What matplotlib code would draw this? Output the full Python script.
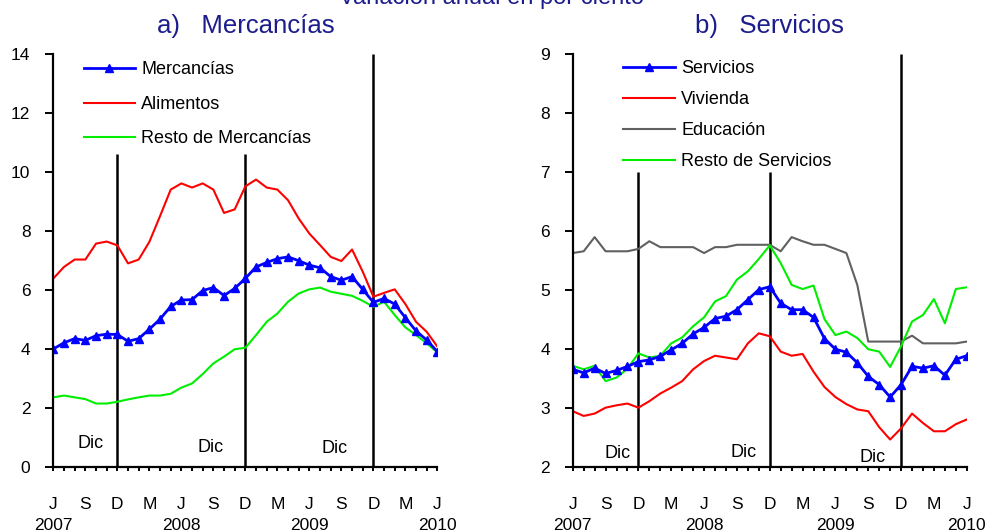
import matplotlib
matplotlib.use("Agg")
import matplotlib.pyplot as plt
import matplotlib.transforms as mtransforms

plt.rcParams['font.family'] = ['Liberation Sans', 'DejaVu Sans']

# months Jun 2007 .. Jun 2010 (37 points)
n_months = 37
month_letters = ['J', 'S', 'D', 'M']  # every 3rd month starting Jun 2007
years = ['2007', '2008', '2009', '2010']
year_pos = [0, 12, 24, 36]
dec_pos = [6, 18, 30]

# panel a) Mercancias
mercancias = [4.01, 4.22, 4.36, 4.30, 4.46, 4.51, 4.50, 4.27, 4.36, 4.68, 5.02, 5.45,
              5.67, 5.68, 5.99, 6.09, 5.82, 6.06, 6.40, 6.79, 6.94, 7.07, 7.13, 7.00,
              6.85, 6.76, 6.46, 6.34, 6.46, 6.03, 5.59, 5.72, 5.53, 5.07, 4.62, 4.31, 3.92]
alimentos = [6.40, 6.79, 7.04, 7.04, 7.58, 7.65, 7.52, 6.91, 7.04, 7.64, 8.51, 9.41,
             9.62, 9.48, 9.62, 9.41, 8.62, 8.74, 9.52, 9.75, 9.48, 9.41, 9.05, 8.43,
             7.92, 7.53, 7.13, 6.99, 7.38, 6.63, 5.78, 5.91, 6.03, 5.53, 4.93, 4.59, 4.09]
resto_merc = [2.37, 2.43, 2.37, 2.31, 2.16, 2.16, 2.22, 2.30, 2.37, 2.43, 2.43, 2.49,
              2.70, 2.84, 3.16, 3.52, 3.75, 4.00, 4.05, 4.48, 4.93, 5.21, 5.61, 5.89,
              6.03, 6.09, 5.95, 5.88, 5.81, 5.64, 5.44, 5.61, 5.16, 4.74, 4.48, 4.20, 3.89]

# panel b) Servicios
servicios = [3.66, 3.60, 3.68, 3.59, 3.64, 3.71, 3.79, 3.82, 3.88, 3.99, 4.10, 4.26,
             4.37, 4.52, 4.56, 4.67, 4.84, 5.01, 5.06, 4.78, 4.67, 4.67, 4.54, 4.18,
             4.00, 3.95, 3.77, 3.54, 3.40, 3.19, 3.40, 3.71, 3.68, 3.72, 3.56, 3.83, 3.89]
vivienda = [2.95, 2.87, 2.91, 3.01, 3.05, 3.08, 3.01, 3.12, 3.25, 3.35, 3.46, 3.66,
            3.80, 3.89, 3.86, 3.83, 4.10, 4.27, 4.22, 3.96, 3.89, 3.92, 3.62, 3.36,
            3.19, 3.07, 2.98, 2.95, 2.68, 2.47, 2.66, 2.91, 2.75, 2.61, 2.61, 2.73, 2.81]
educacion = [5.63, 5.66, 5.90, 5.66, 5.66, 5.66, 5.70, 5.83, 5.73, 5.73, 5.73, 5.73,
             5.63, 5.73, 5.73, 5.77, 5.77, 5.77, 5.77, 5.66, 5.90, 5.83, 5.77, 5.77,
             5.70, 5.63, 5.09, 4.13, 4.13, 4.13, 4.13, 4.23, 4.10, 4.10, 4.10, 4.10, 4.13]
resto_serv = [3.72, 3.66, 3.72, 3.46, 3.52, 3.67, 3.93, 3.86, 3.89, 4.10, 4.20, 4.39,
              4.54, 4.81, 4.90, 5.18, 5.32, 5.53, 5.76, 5.46, 5.09, 5.02, 5.08, 4.51,
              4.24, 4.30, 4.19, 4.00, 3.96, 3.70, 4.05, 4.47, 4.58, 4.85, 4.44, 5.02, 5.05]

navy = '#1c1c8c'
x = list(range(n_months))
tick_labels = [month_letters[(i // 3) % 4] if i % 3 == 0 else '' for i in x]

fig = plt.figure(figsize=(9.88, 5.31), dpi=100)
ax1 = fig.add_axes([0.054, 0.12, 0.3887, 0.778])
ax2 = fig.add_axes([0.5797, 0.12, 0.3988, 0.778])

# top title is cut off at the upper edge in the original as well
fig.text(0.497, 0.9925, 'Variación anual en por ciento', ha='center', va='baseline',
         fontsize=17, color=navy)


def style_axis(ax, ylo, yhi, yticks, title, vtop, dic_xy):
    ax.set_xlim(0, n_months - 1)
    ax.set_ylim(ylo, yhi)
    ax.set_yticks(yticks)
    ax.set_xticks(x)
    ax.set_xticklabels(tick_labels)
    for s in ['top', 'right']:
        ax.spines[s].set_visible(False)
    for s in ['left', 'bottom']:
        ax.spines[s].set_linewidth(1.6)
    ax.tick_params(axis='y', direction='out', length=5.5, width=1.4, pad=11, labelsize=12.5)
    ax.tick_params(axis='x', direction='out', length=3, width=1.4, pad=18.5, labelsize=12.5)
    ax.set_title(title, fontsize=18.5, color=navy, pad=15)
    # december separators
    ax.vlines(dec_pos[:2], ylo, vtop, color='black', lw=1.8, zorder=1)
    ax.vlines(dec_pos[2], ylo, yhi, color='black', lw=1.8, zorder=1)
    for dx, dy in dic_xy:
        ax.text(dx, dy, 'Dic', ha='center', va='center', fontsize=13)
    trans = mtransforms.blended_transform_factory(ax.transData, ax.transAxes)
    for yp, yr in zip(year_pos, years):
        ax.text(yp, -0.14, yr, transform=trans, ha='center', va='center', fontsize=12.5)


style_axis(ax1, 0, 14, range(0, 15, 2), 'a)   Mercancías', 10.63,
           [(3.5, 0.81), (14.7, 0.68), (26.4, 0.64)])
style_axis(ax2, 2, 9, range(2, 10), 'b)   Servicios', 7.0,
           [(4.05, 2.24), (15.6, 2.25), (27.4, 2.17)])

ax1.plot(x, resto_merc, color='#00ee00', lw=1.5, label='Resto de Mercancías')
ax1.plot(x, alimentos, color='#ff0000', lw=1.5, label='Alimentos')
ax1.plot(x, mercancias, color='#0000ff', lw=2, marker='^', markersize=6, label='Mercancías')
h, l = ax1.get_legend_handles_labels()
ax1.legend(h[::-1], l[::-1], loc='upper left', bbox_to_anchor=(0.06, 1.0), frameon=False,
           fontsize=13, handlelength=2.85, handletextpad=0.35, labelspacing=0.97,
           borderaxespad=0)

ax2.plot(x, educacion, color='#606060', lw=1.5, label='Educación')
ax2.plot(x, resto_serv, color='#00ee00', lw=1.5, label='Resto de Servicios')
ax2.plot(x, vivienda, color='#ff0000', lw=1.5, label='Vivienda')
ax2.plot(x, servicios, color='#0000ff', lw=2, marker='^', markersize=6, label='Servicios')
h, l = ax2.get_legend_handles_labels()
order = [3, 2, 0, 1]
ax2.legend([h[i] for i in order], [l[i] for i in order], loc='upper left',
           bbox_to_anchor=(0.11, 1.003), frameon=False, fontsize=13, handlelength=2.85,
           handletextpad=0.35, labelspacing=0.78, borderaxespad=0)

fig.savefig('out.png', dpi=100)
